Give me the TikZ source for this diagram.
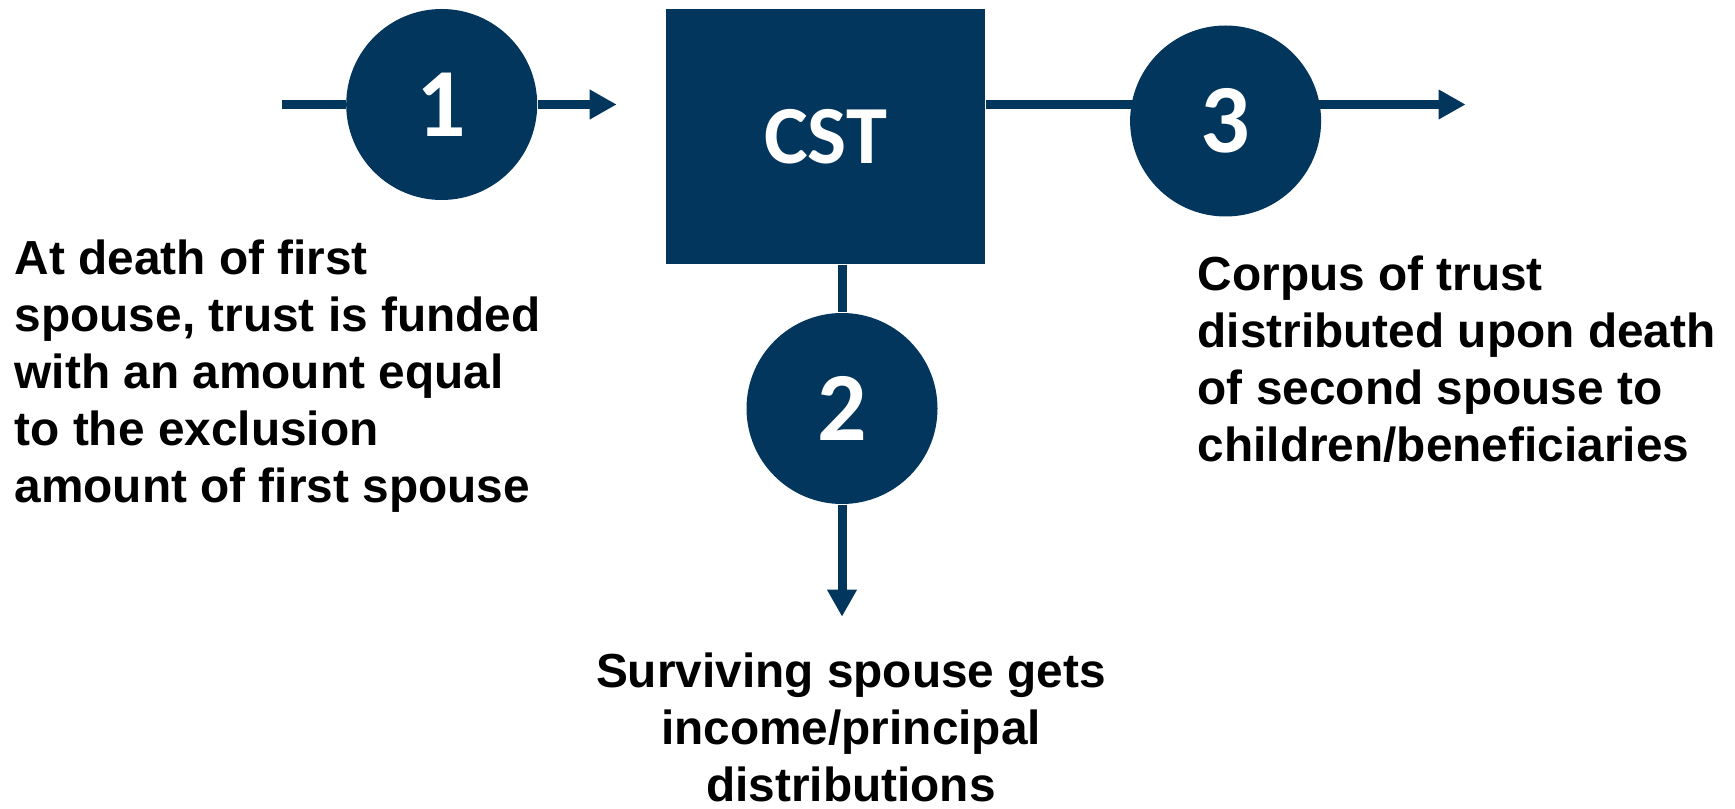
\documentclass[tikz,border=0pt]{standalone}
\usepackage{fontspec}
\setmainfont{Liberation Sans}
\newfontfamily\calfont{Carlito}
\usepackage{tikz}
\usetikzlibrary{arrows.meta,backgrounds}
\definecolor{trustblue}{RGB}{3,54,92}
\tikzset{
	numcircle/.style={circle, fill=trustblue, minimum size=1.91cm, inner sep=0pt, text=white, font=\calfont\bfseries\fontsize{27.8}{30}\selectfont},
	cstbox/.style={rectangle, fill=trustblue, minimum width=3.19cm, minimum height=2.55cm, inner sep=0pt, text=white, font=\calfont\bfseries\fontsize{23.5}{26}\selectfont},
	plain/.style={draw=trustblue, line width=0.09cm},
	flow/.style={plain, -{Triangle[length=2.7mm,width=2.8mm]}},
	caption/.style={inner sep=0pt, font=\bfseries\fontsize{13.6}{16.2}\selectfont}
}

\begin{document}
\begin{tikzpicture}
	\useasboundingbox (0,0) rectangle (17.35,8.08);
	%trust box and the three steps
	\node[cstbox] (cst) at (8.255,6.715) {CST};
	\node[numcircle] (n1) at (4.417,7.035) {1};
	\node[numcircle] (n2) at (8.42,3.995) {2};
	\node[numcircle] (n3) at (12.256,6.87) {3};
	\coordinate (in1) at (2.82,7.035);
	\coordinate (out1) at (6.167,7.035);
	\coordinate (out2) at (8.42,1.913);
	\coordinate (out3) at (14.656,7.035);
	
	\begin{pgfonlayer}{background}
	\draw[plain] (in1) -- (n1);
	\draw[flow] (n1) -- (out1);
	\draw[plain] (cst.east |- in1) -- (n3.center |- in1);
	\draw[flow] (n3.center |- in1) -- (out3);
	\draw[plain] (cst.south -| n2) -- (n2);
	\draw[flow] (n2) -- (out2);
	\end{pgfonlayer}
	
	\node[caption, anchor=north west, align=left] (txt1) at (0.14,5.69) {At death of first\\spouse, trust is funded\\with an amount equal\\to the exclusion\\amount of first spouse};
	\node[caption, anchor=north, align=center] (txt2) at (8.51,1.56) {Surviving spouse gets\\income/principal\\distributions};
	\node[caption, anchor=north west, align=left] (txt3) at (11.97,5.53) {Corpus of trust\\distributed upon death\\of second spouse to\\children/beneficiaries};
\end{tikzpicture}
\end{document}
